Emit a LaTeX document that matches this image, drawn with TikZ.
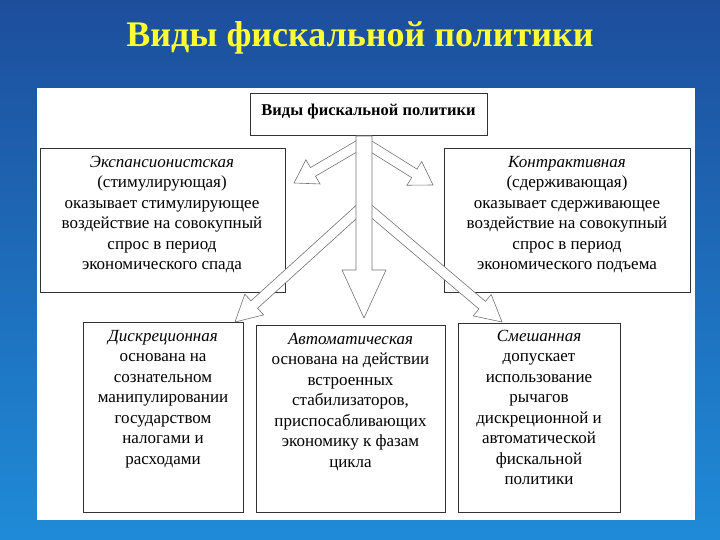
\documentclass[tikz,border=0pt]{standalone}
\usepackage{fontspec}
\setmainfont{Liberation Serif}
\usetikzlibrary{calc}
\definecolor{bgtop}{HTML}{1D4E9C}
\definecolor{bgbot}{HTML}{1F8BD8}
\definecolor{ttl}{HTML}{FFFF33}
\tikzset{
  box/.style={draw=black!80, line width=0.7pt, fill=white},
  txt/.style={align=center, font=\fontsize{17}{20.5}\selectfont, inner sep=0pt, anchor=north},
  barrow/.style={draw=black!55, fill=white, line width=0.6pt, line join=miter}
}
\newcommand{\blockarrow}[5]{%
  \coordinate (ba) at #1; \coordinate (bb) at #2;
  \coordinate (bh) at ($(bb)!#5!(ba)$);
  \draw[barrow] ($(ba)!#3!90:(bb)$) -- ($(bh)!#3!90:(bb)$) -- ($(bh)!#4!90:(bb)$) -- (bb)
    -- ($(bh)!#4!-90:(bb)$) -- ($(bh)!#3!-90:(bb)$) -- ($(ba)!#3!-90:(bb)$) -- cycle;}
\begin{document}
\begin{tikzpicture}[x=1pt,y=-1pt]
\useasboundingbox (0,0) rectangle (720,540);
\shade[top color=bgtop, bottom color=bgbot] (0,0) rectangle (720,540);
\node[font=\bfseries\fontsize{36}{38}\selectfont, text=ttl] (title) at (360,38) {Виды фискальной политики};
\fill[white] (37,88) rectangle (695,520);
% boxes
\draw[box] (250,93) rectangle (487,135);
\node[font=\bfseries\fontsize{16.5}{18}\selectfont] (top) at (368.5,112) {Виды фискальной политики};
\draw[box] (40,148) rectangle (285,292);
\draw[box] (444,148) rectangle (690,292);
\draw[box] (83,322) rectangle (243,512);
\draw[box] (256,325) rectangle (445,512);
\draw[box] (458,323) rectangle (620,512);
% arrows
\blockarrow{(364,142)}{(294,183)}{5pt}{14pt}{22pt}
\blockarrow{(364,142)}{(433,185)}{5pt}{14pt}{22pt}
\blockarrow{(364,205)}{(235,322)}{5pt}{14pt}{26pt}
\blockarrow{(364,205)}{(502,322)}{5pt}{14pt}{26pt}
\blockarrow{(364,136)}{(364,318)}{8pt}{22pt}{48pt}
% texts
\node[txt] (t1) at (162,156) {\textit{Экспансионистская}\\(стимулирующая)\\оказывает стимулирующее\\воздействие на совокупный\\спрос в период\\экономического спада};
\node[txt] (t2) at (567,156) {\textit{Контрактивная}\\(сдерживающая)\\оказывает сдерживающее\\воздействие на совокупный\\спрос в период\\экономического подъема};
\node[txt] (t3) at (163,330) {\textit{Дискреционная}\\основана на\\сознательном\\манипулировании\\государством\\налогами и\\расходами};
\node[txt] (t4) at (350.5,333) {\textit{Автоматическая}\\основана на действии\\встроенных\\стабилизаторов,\\приспосабливающих\\экономику к фазам\\цикла};
\node[txt] (t5) at (539,330) {\textit{Смешанная}\\допускает\\использование\\рычагов\\дискреционной и\\автоматической\\фискальной\\политики};
\end{tikzpicture}
\end{document}
